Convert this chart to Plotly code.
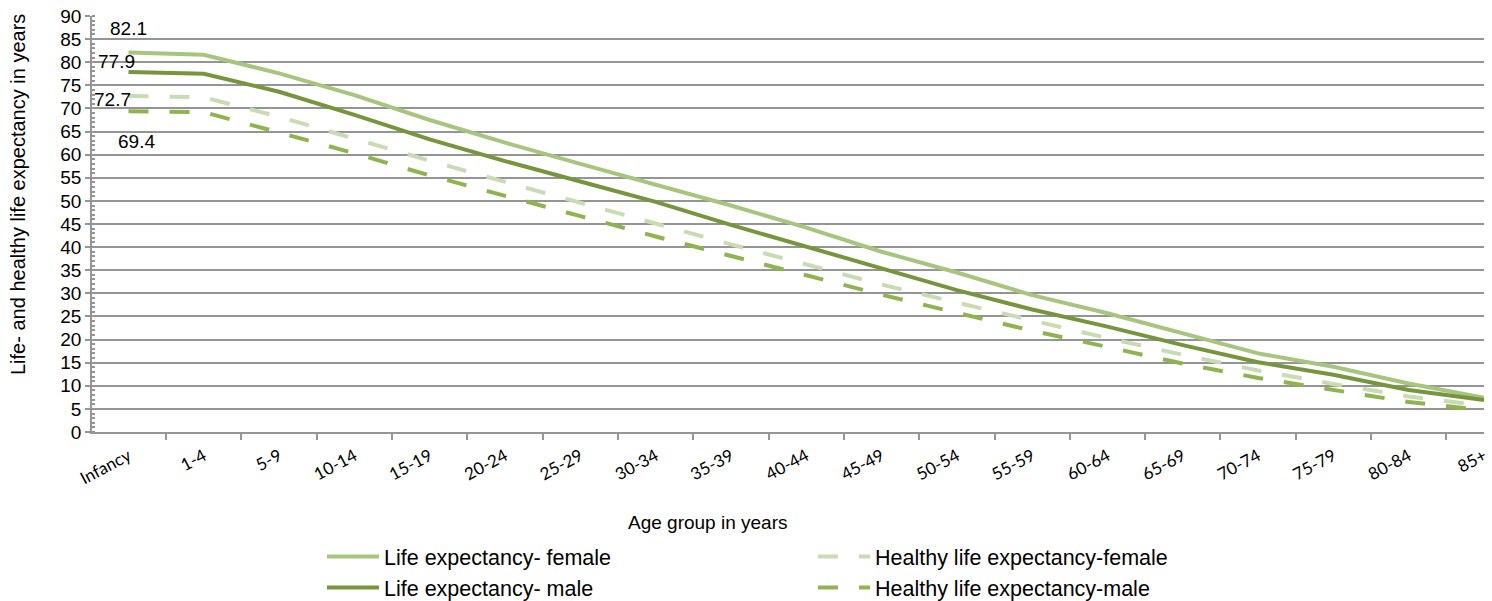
import plotly.graph_objects as go

# Age groups on the x axis
age_groups = ["Infancy", "1-4", "5-9", "10-14", "15-19", "20-24", "25-29", "30-34",
              "35-39", "40-44", "45-49", "50-54", "55-59", "60-64", "65-69", "70-74",
              "75-79", "80-84", "85+"]

# Remaining years of life by age group
le_female = [82.1, 81.6, 77.6, 72.9, 67.5, 62.6, 58.0, 53.6, 49.0, 44.2, 39.0, 34.5,
             29.6, 25.7, 21.4, 17.0, 14.1, 10.5, 7.4]
le_male = [77.9, 77.5, 73.6, 68.6, 63.3, 58.6, 54.2, 49.8, 44.8, 40.0, 35.4, 30.7,
           26.5, 22.8, 18.8, 15.1, 12.4, 9.1, 6.9]
hle_female = [72.7, 72.4, 68.2, 63.4, 58.7, 54.1, 49.5, 45.1, 40.6, 36.3, 31.9, 28.0,
              24.1, 20.3, 16.7, 13.3, 10.4, 7.7, 5.7]
hle_male = [69.4, 69.2, 64.8, 60.3, 55.5, 51.2, 46.7, 42.3, 38.0, 33.9, 29.7, 25.7,
            21.9, 18.4, 14.8, 11.7, 9.2, 6.5, 4.7]

y_ticks = list(range(0, 91, 5))

C_F = "#a7c57d"
C_M = "#76953c"
C_HF = "#c9dbb3"
C_HM = "#8fb34f"
DASH = "20px,21px"
SANS = "Liberation Sans, Arial"

fig = go.Figure()
fig.add_trace(go.Scatter(x=age_groups, y=hle_female, mode="lines", name="Healthy life expectancy-female",
                         line=dict(color=C_HF, width=4, dash=DASH), legendrank=2))
fig.add_trace(go.Scatter(x=age_groups, y=hle_male, mode="lines", name="Healthy life expectancy-male",
                         line=dict(color=C_HM, width=4, dash=DASH), legendrank=4))
fig.add_trace(go.Scatter(x=age_groups, y=le_female, mode="lines", name="Life expectancy- female",
                         line=dict(color=C_F, width=4), legendrank=1))
fig.add_trace(go.Scatter(x=age_groups, y=le_male, mode="lines", name="Life expectancy- male",
                         line=dict(color=C_M, width=4), legendrank=3))

# Value labels for the first age group
label_font = dict(family=SANS, size=19, color="#000000")
offsets = [(le_female, 0, 24), (le_male, -12, 10), (hle_female, -16, -4), (hle_male, 8, -30)]
for series, dx, dy in offsets:
    fig.add_annotation(x=age_groups[0], y=series[0], text=f"{series[0]:.1f}", showarrow=False,
                       xshift=dx, yshift=dy, font=label_font)

# Axis titles
fig.add_annotation(text="Age group in years", xref="paper", yref="paper",
                   x=(708 - 92) / 1392, y=-(522 - 432) / 416, showarrow=False,
                   xanchor="center", yanchor="middle",
                   font=dict(family=SANS, size=19, color="#000"))
fig.add_annotation(text="Life- and healthy life expectancy in years", xref="paper", yref="paper",
                   x=-(92 - 18) / 1392, y=(432 - 195) / 416, showarrow=False, textangle=-90,
                   xanchor="center", yanchor="middle",
                   font=dict(family=SANS, size=20, color="#000"))

grid = "#959595"
fig.update_layout(
    width=1492, height=601,
    margin=dict(l=92, r=8, t=16, b=169, autoexpand=False),
    plot_bgcolor="#ffffff", paper_bgcolor="#ffffff",
    font=dict(family=SANS, size=19, color="#000"),
    xaxis=dict(type="category", tickson="boundaries", ticks="outside", ticklen=6,
               tickcolor=grid, tickwidth=1.5, showline=True, linecolor=grid, linewidth=1.5,
               showgrid=False, tickangle=-28, automargin=False, ticklabelstandoff=6,
               tickfont=dict(family="Lato", size=17, color="#000")),
    yaxis=dict(range=[0, 90], tickvals=y_ticks, ticks="outside", ticklen=5, tickcolor=grid,
               tickwidth=1.5, showline=True, linecolor=grid, linewidth=1.5, automargin=False,
               showgrid=True, gridcolor=grid, gridwidth=1.5, zeroline=False,
               tickfont=dict(family=SANS, size=19, color="#000"),
               minor=dict(dtick=1, ticks="inside", ticklen=3, tickcolor=grid, showgrid=False)),
    showlegend=True,
    legend=dict(orientation="h", x=(322 - 92) / 1392, xanchor="left", y=-(536 - 432) / 416,
                yanchor="top", entrywidth=424, itemwidth=52, traceorder="normal",
                font=dict(family=SANS, size=21.5, color="#000")),
)

fig.write_html("out.html")
